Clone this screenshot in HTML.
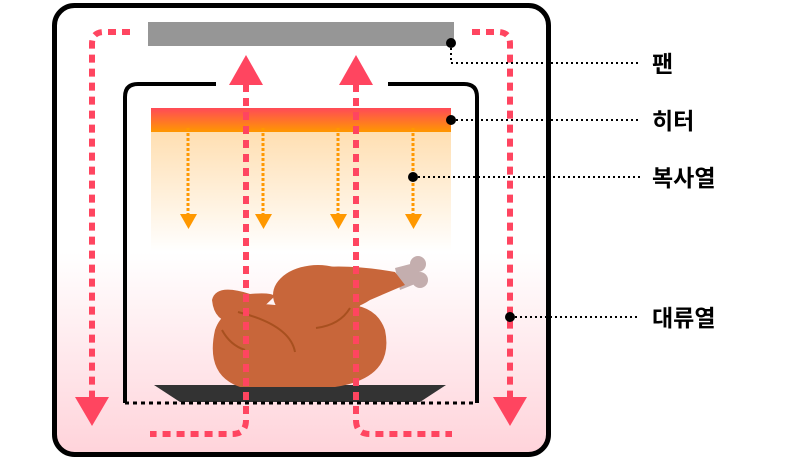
<!DOCTYPE html>
<html><head><meta charset="utf-8"><style>
html,body{margin:0;padding:0;background:#fff;}
svg{display:block;}
text{font-family:"Liberation Sans","Noto Sans CJK KR",sans-serif;font-weight:bold;font-size:23px;fill:#000;}
</style></head><body>
<svg width="800" height="458" viewBox="0 0 800 458" xmlns="http://www.w3.org/2000/svg">
<defs>
<linearGradient id="bg" x1="0" y1="0" x2="0" y2="1">
<stop offset="0" stop-color="#fff"/><stop offset="0.55" stop-color="#fff"/><stop offset="1" stop-color="#ffd3da"/>
</linearGradient>
<linearGradient id="heat" x1="0" y1="0" x2="0" y2="1">
<stop offset="0" stop-color="#ff4a58"/><stop offset="1" stop-color="#ff9800"/>
</linearGradient>
<linearGradient id="rad" x1="0" y1="0" x2="0" y2="1">
<stop offset="0" stop-color="#ffdfb2"/><stop offset="1" stop-color="#ffdfb2" stop-opacity="0"/>
</linearGradient>
</defs>
<rect x="54.5" y="5.5" width="494" height="449" rx="20" fill="url(#bg)" stroke="#000" stroke-width="5"/>
<rect x="148" y="22" width="306" height="24" fill="#969696"/>
<path d="M216 84 H138 Q125 84 125 97 V403 M388 84 H464 Q477 84 477 97 V403" fill="none" stroke="#000" stroke-width="4"/>
<rect x="151" y="132" width="300" height="120" fill="url(#rad)"/>
<rect x="151" y="108" width="300" height="24" fill="url(#heat)"/>
<g stroke="#ff9800" stroke-width="3" stroke-dasharray="3 2" fill="none">
<path d="M188 128 V214 M263 128 V214 M338 128 V214 M413 128 V214"/>
</g>
<g fill="#ff9800">
<polygon points="180,214 197,214 188.5,229"/><polygon points="255,214 272,214 263.5,229"/>
<polygon points="330,214 347,214 338.5,229"/><polygon points="405,214 422,214 413.5,229"/>
</g>
<!-- tray -->
<polygon points="154,385 446,385 420,402 180,402" fill="#333"/>
<!-- chicken -->
<g fill="#c8663a">
<circle cx="418" cy="264" r="8" fill="#c4aeae"/><circle cx="420" cy="280" r="8" fill="#c4aeae"/>
<path d="M395 268 L418 262 L420 282 L400 290 Z" fill="#c4aeae"/>
<path d="M300 270 Q340 262 395 272 L405 285 L370 300 Q340 320 300 300 Z"/>
<ellipse cx="318" cy="295" rx="45" ry="30"/>
<path d="M212 300 Q216 283 250 294 Q270 292 275 296 L250 320 Q215 330 212 300Z"/>
<path d="M215 330 Q225 300 275 305 Q290 300 330 305 Q375 300 385 330 Q395 378 335 387 L240 387 Q205 375 215 330Z"/>
</g>
<g fill="none" stroke="#a8501f" stroke-width="2">
<path d="M238 312 Q290 325 295 352"/><path d="M316 328 Q340 325 350 308"/><path d="M222 330 Q230 345 245 350"/>
</g>
<path d="M125 403 H477" stroke="#000" stroke-width="3" stroke-dasharray="4 4"/>
<!-- convection -->
<g stroke="#ff4560" stroke-width="6" fill="none" stroke-dasharray="8 6">
<path d="M130 32 H104 Q92 32 92 44 V400"/>
<path d="M472 32 H498 Q510 32 510 44 V400"/>
<path d="M246 84 V420 Q246 434 232 434 H150"/>
<path d="M356 84 V420 Q356 434 370 434 H452"/>
</g>
<g fill="#ff4560">
<polygon points="75,397 109,397 92,426"/><polygon points="493,397 527,397 510,426"/>
<polygon points="229,85 263,85 246,55"/><polygon points="339,85 373,85 356,55"/>
</g>
<!-- leaders -->
<g stroke="#000" stroke-width="2" stroke-dasharray="2 3" fill="none">
<path d="M451 43 V63 H640"/><path d="M451 120 H640"/><path d="M413 177 H640"/><path d="M510 317 H640"/>
</g>
<g fill="#000">
<circle cx="451" cy="43" r="5"/><circle cx="451" cy="120" r="5"/><circle cx="413" cy="177" r="5"/><circle cx="510" cy="317" r="5"/>
</g>
<text x="652" y="72">팬</text>
<text x="652" y="129">히터</text>
<text x="652" y="186">복사열</text>
<text x="652" y="326">대류열</text>
</svg>
</body></html>
